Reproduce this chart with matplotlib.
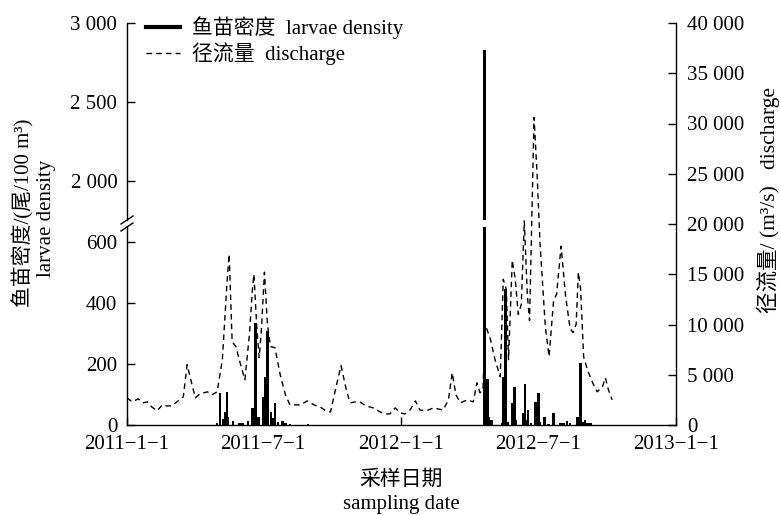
from matplotlib import pyplot as plt
from matplotlib.lines import Line2D
from matplotlib.ticker import FuncFormatter, FixedLocator
import matplotlib.dates as mdates

plt.rcParams['font.family'] = ['Liberation Serif', 'Noto Sans CJK SC']

# discharge (m3/s)
discharge_dates = [
    "2011-01-01", "2011-01-08", "2011-01-16", "2011-01-22", "2011-01-28",
    "2011-02-03", "2011-02-10", "2011-02-17", "2011-02-23", "2011-03-02",
    "2011-03-10", "2011-03-17", "2011-03-22", "2011-04-02", "2011-04-08",
    "2011-04-18", "2011-04-24", "2011-05-01", "2011-05-08", "2011-05-12",
    "2011-05-14", "2011-05-17", "2011-05-21", "2011-05-26", "2011-06-02",
    "2011-06-07", "2011-06-13", "2011-06-17", "2011-06-19", "2011-06-23",
    "2011-06-26", "2011-06-29", "2011-07-03", "2011-07-07", "2011-07-11",
    "2011-07-17", "2011-07-24", "2011-07-31", "2011-08-06", "2011-08-16",
    "2011-08-20", "2011-08-29", "2011-09-07", "2011-09-15", "2011-09-23",
    "2011-09-29", "2011-10-07", "2011-10-13", "2011-10-20", "2011-10-25",
    "2011-11-01", "2011-11-07", "2011-11-15", "2011-11-25", "2011-12-04",
    "2011-12-12", "2011-12-17", "2011-12-24", "2011-12-31", "2012-01-06",
    "2012-01-13", "2012-01-20", "2012-01-26", "2012-02-03", "2012-02-13",
    "2012-02-19", "2012-02-26", "2012-03-04", "2012-03-09", "2012-03-14",
    "2012-03-20", "2012-03-29", "2012-04-06", "2012-04-11", "2012-04-15",
    "2012-04-19", "2012-04-22", "2012-04-29", "2012-05-05", "2012-05-12",
    "2012-05-16", "2012-05-20", "2012-05-23", "2012-05-28", "2012-06-01",
    "2012-06-05", "2012-06-09", "2012-06-13", "2012-06-17", "2012-06-20",
    "2012-06-26", "2012-06-30", "2012-07-04", "2012-07-11", "2012-07-16",
    "2012-07-22", "2012-07-26", "2012-08-01", "2012-08-07", "2012-08-13",
    "2012-08-17", "2012-08-21", "2012-08-24", "2012-08-27", "2012-08-31",
    "2012-09-05", "2012-09-12", "2012-09-18", "2012-09-25", "2012-09-29",
    "2012-10-03", "2012-10-08",
]
discharge_values = [
    2700, 2300, 2600, 2200, 2300,
    1800, 1400, 2000, 1900, 1900,
    2400, 2800, 6000, 2700, 3100,
    3300, 3000, 3300, 6500, 11500,
    14000, 17000, 8300, 7800, 5800,
    4500, 9000, 13500, 15000, 9500,
    6700, 9500, 15200, 10000, 7800,
    7700, 5000, 3000, 2000, 2000,
    2000, 2400, 2000, 1800, 1400,
    1300, 4000, 5900, 3500, 2200,
    2300, 2300, 1900, 1700, 1300,
    1100, 1100, 1700, 1200, 1100,
    1500, 2400, 1500, 1400, 1700,
    1600, 1500, 2500, 5200, 3000,
    2200, 2500, 2300, 4200, 3200,
    3500, 10000, 8500, 6500, 4800,
    14500, 13500, 6500, 16400, 14500,
    11000, 12000, 20300, 13000, 10400,
    30600, 25000, 18000, 9800, 6800,
    12400, 13000, 17800, 12800, 9600,
    9200, 10000, 15200, 13500, 6800,
    5500, 4200, 3300, 3800, 4700,
    3500, 2500,
]

# larvae density (ind/100 m3), one bar per sampling day
larvae_dates = [
    "2011-05-01", "2011-05-05", "2011-05-09", "2011-05-12", "2011-05-14",
    "2011-05-15", "2011-05-22", "2011-05-31", "2011-06-04", "2011-06-11",
    "2011-06-17", "2011-06-21", "2011-06-25", "2011-07-01", "2011-07-04",
    "2011-07-07", "2011-07-08", "2011-07-12", "2011-07-15", "2011-07-17",
    "2011-07-21", "2011-07-27", "2011-07-31", "2011-08-06", "2011-08-30",
    "2012-04-21", "2012-04-25", "2012-04-27", "2012-04-30", "2012-05-15",
    "2012-05-16", "2012-05-19", "2012-05-22", "2012-05-28", "2012-05-31",
    "2012-06-02", "2012-06-12", "2012-06-14", "2012-06-16", "2012-06-18",
    "2012-06-22", "2012-06-28", "2012-07-02", "2012-07-04", "2012-07-10",
    "2012-07-15", "2012-07-22", "2012-07-31", "2012-08-04", "2012-08-09",
    "2012-08-13", "2012-08-23", "2012-08-27", "2012-08-31", "2012-09-02",
    "2012-09-05", "2012-09-09",
]
larvae_values = [
    5, 105, 20, 42, 108,
    25, 12, 5, 8, 12,
    57, 335, 25, 92, 158,
    310, 38, 42, 22, 72,
    10, 13, 6, 3, 2,
    2830, 150, 25, 15, 8,
    158, 445, 10, 71, 125,
    15, 38, 134, 16, 48,
    6, 75, 106, 10, 25,
    4, 40, 6, 8, 12,
    8, 25, 203, 10, 16,
    8, 5,
]

date_ticks = ["2011-01-01", "2011-07-01", "2012-01-01", "2012-07-01", "2013-01-01"]
date_tick_labels = ["2011\u22121\u22121", "2011\u22127\u22121", "2012\u22121\u22121",
                    "2012\u22127\u22121", "2013\u22121\u22121"]
lower_ticks = [0, 200, 400, 600]
upper_ticks = [2000, 2500, 3000]
discharge_ticks = [0, 5000, 10000, 15000, 20000, 25000, 30000, 35000, 40000]


def _fmt(v, pos):
    return f"{int(v):,}".replace(",", " ")


def _style(ax, side):
    ax.tick_params(direction="in", length=6, width=1, labelsize=15)
    ax.tick_params(axis="y", pad=7 if side == "left" else 8)
    ax.tick_params(axis="x", pad=7)
    for s in ax.spines.values():
        s.set_linewidth(1)


def go():
    fig = plt.figure(figsize=(7.8, 5.15), dpi=100)
    L, W = 127 / 780, 549 / 780
    B = 90 / 515
    low_top = (515 - 227) / 515
    up_bot = (515 - 220) / 515
    top = (515 - 23) / 515

    x_bar = mdates.datestr2num(larvae_dates)
    x_dis = mdates.datestr2num(discharge_dates)
    x_tick = mdates.datestr2num(date_ticks)
    xlim = (x_tick[0], x_tick[-1])

    ax_low = fig.add_axes([L, B, W, low_top - B])
    ax_up = fig.add_axes([L, up_bot, W, top - up_bot])
    ax_q = fig.add_axes([L, B, W, top - B])

    for ax in (ax_low, ax_up):
        ax.bar(x_bar, larvae_values, width=3.4, color="black", linewidth=0)
        ax.set_xlim(*xlim)
        ax.spines["top"].set_visible(False)
        ax.spines["right"].set_visible(False)
        _style(ax, "left")
        ax.yaxis.set_major_formatter(FuncFormatter(_fmt))

    ax_low.set_ylim(0, 650)
    ax_low.yaxis.set_major_locator(FixedLocator(lower_ticks))
    ax_low.set_xticks(x_tick)
    ax_low.set_xticklabels(date_tick_labels)

    ax_up.set_ylim(1750, 3000)
    ax_up.yaxis.set_major_locator(FixedLocator(upper_ticks))
    ax_up.spines["bottom"].set_visible(False)
    ax_up.set_xticks([])

    ax_q.patch.set_visible(False)
    ax_q.plot(x_dis, discharge_values, color="black", lw=1.0, linestyle=(0, (4, 3)))
    ax_q.set_xlim(*xlim)
    ax_q.set_ylim(0, 40000)
    ax_q.set_xticks([])
    ax_q.yaxis.tick_right()
    ax_q.yaxis.set_major_locator(FixedLocator(discharge_ticks))
    ax_q.yaxis.set_major_formatter(FuncFormatter(_fmt))
    for s in ("left", "top", "bottom"):
        ax_q.spines[s].set_visible(False)
    _style(ax_q, "right")

    # break marks on the left axis
    for ypx in (220, 227):
        y = (515 - ypx) / 515
        fig.add_artist(Line2D([L - 6 / 780, L + 6 / 780], [y - 4 / 515, y + 4 / 515],
                              color="black", lw=1, transform=fig.transFigure))

    handles = [Line2D([], [], color="black", lw=3),
               Line2D([], [], color="black", lw=1, linestyle=(0, (4, 3)))]
    fig.legend(handles, ["鱼苗密度  larvae density", "径流量  discharge"],
               loc="upper left", bbox_to_anchor=(138 / 780, 1 - 8 / 515),
               frameon=False, fontsize=15, handlelength=1.6, handletextpad=0.6,
               labelspacing=0.15, borderaxespad=0)

    fig.text(23 / 780, 1 - 213 / 515, "鱼苗密度/(尾/100 m\u00b3)", rotation=90,
             ha="center", va="center", fontsize=15)
    fig.text(47 / 780, 1 - 218 / 515, "larvae density", rotation=90,
             ha="center", va="center", fontsize=15)
    fig.text(768 / 780, 1 - 200 / 515, "径流量/ (m\u00b3/s)   discharge", rotation=90,
             ha="center", va="center", fontsize=15.5)
    fig.text(401 / 780, 1 - 480 / 515, "采样日期", ha="center", va="center", fontsize=15)
    fig.text(401 / 780, 1 - 504 / 515, "sampling date", ha="center", va="center",
             fontsize=15)

    fig.savefig("out.png", dpi=100)


go()
